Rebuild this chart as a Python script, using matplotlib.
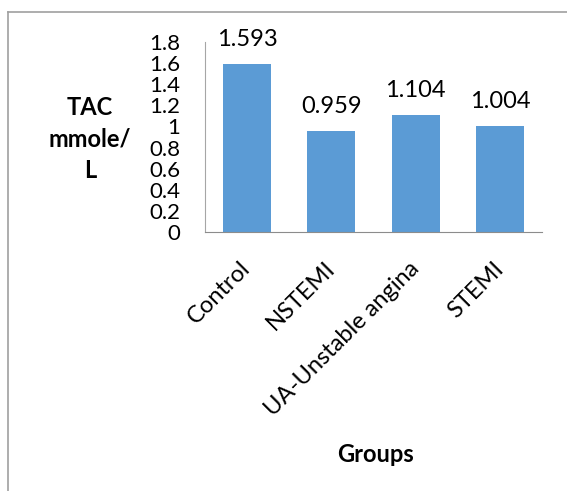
import matplotlib
matplotlib.use("Agg")
from matplotlib import pyplot as plt
from matplotlib.lines import Line2D

groups = ["Control", "NSTEMI", "UA-Unstable angina", "STEMI"]
tac = [1.593, 0.959, 1.104, 1.004]
yticks = [0, 0.2, 0.4, 0.6, 0.8, 1, 1.2, 1.4, 1.6, 1.8]
ytick_labels = ["0", "0.2", "0.4", "0.6", "0.8", "1", "1.2", "1.4", "1.6", "1.8"]

plt.rcParams['font.family'] = ['Lato', 'DejaVu Sans']

fig = plt.figure(figsize=(5.67, 4.91), dpi=100)
ax = fig.add_axes([0.3616, 0.5275, 0.5944, 0.387])

x = range(len(groups))
ax.bar(x, tac, width=0.57, color="#5B9BD5", zorder=2)
for xi, v in zip(x, tac):
    ax.annotate(f"{v:.3f}", (xi, v), xytext=(0, 13), textcoords="offset points",
                ha="center", va="baseline", fontsize=17, annotation_clip=False)

ax.set_xlim(-0.5, 3.5)
ax.set_ylim(0, 1.8)
ax.set_yticks(yticks)
ax.set_yticklabels(ytick_labels, fontsize=16)
ax.set_xticks(list(x))
ax.set_xticklabels(groups, fontsize=17, rotation=45, ha="right", va="center",
                   rotation_mode="anchor")
ax.tick_params(axis="y", length=0, pad=18)
ax.tick_params(axis="x", length=0, pad=24)

for side in ["top", "right"]:
    ax.spines[side].set_visible(False)
ax.spines["left"].set_color("#a6a6a6")
ax.spines["bottom"].set_color("#8c8c8c")

fig.text(90 / 567, 1 - 139 / 491, "TAC\nmmole/\nL", ha="center", va="center",
         fontsize=17, fontweight="bold", linespacing=1.45)
fig.text(376 / 567, 1 - 455 / 491, "Groups", ha="center", va="center",
         fontsize=17, fontweight="bold")

# outer frame (left and top edges only)
fig.add_artist(Line2D([8 / 567, 8 / 567], [0, 1 - 12 / 491], color="#a0a0a0", lw=1.2))
fig.add_artist(Line2D([8 / 567, 1], [1 - 12 / 491, 1 - 12 / 491], color="#a0a0a0", lw=1.2))

fig.savefig("out.png", dpi=100)
